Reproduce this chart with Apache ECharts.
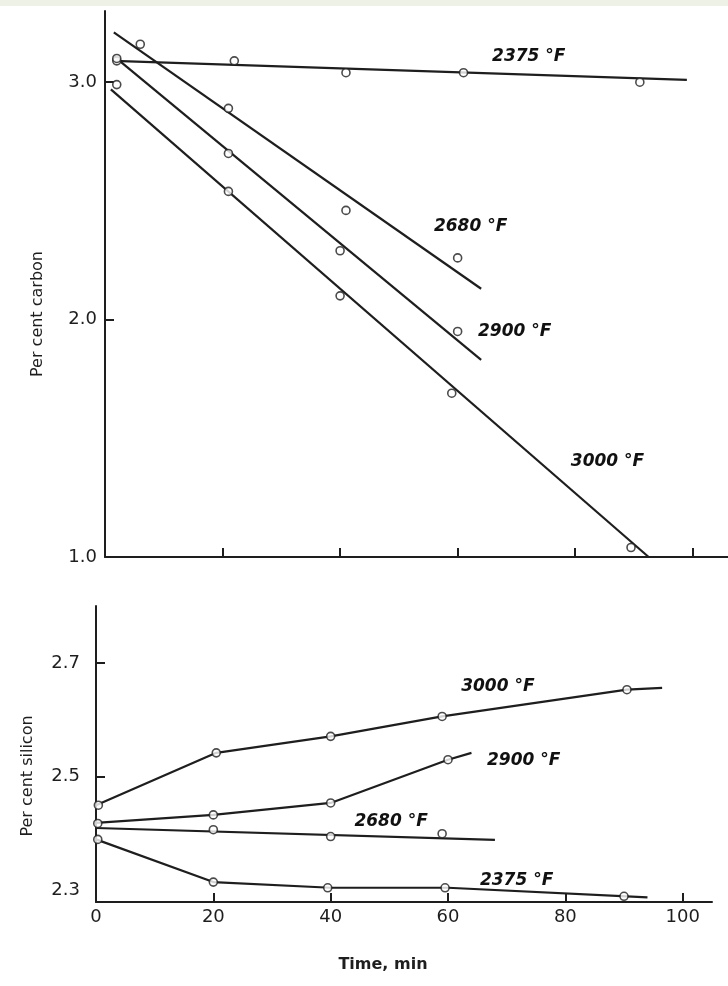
<!DOCTYPE html>
<html><head><meta charset="utf-8">
<script src="https://cdn.jsdelivr.net/npm/echarts@6/dist/echarts.min.js"></script>
<style>html,body{margin:0;padding:0;background:#fff}#c{width:728px;height:986px}</style>
</head><body><div id="c"></div>
<script>
// ---- data ----
const temps = ['2375 °F', '2680 °F', '2900 °F', '3000 °F'];
const timeLabels = [0, 20, 40, 60, 80, 100];
const timeTicks = [20, 40, 60, 80, 100];
const carbonLabels = [1.0, 2.0, 3.0];
const carbonTicks = [2.0, 3.0];
const siliconLabels = [2.3, 2.5, 2.7];
const siliconTicks = [2.5, 2.7];

// Per cent carbon: measured points [time, %C]
const carbon2375 = [[2, 3.09], [22, 3.09], [41, 3.04], [61, 3.04], [91, 3.0]];
const carbon2680 = [[6, 3.16], [21, 2.89], [41, 2.46], [60, 2.26]];
const carbon2900 = [[2, 3.10], [21, 2.70], [40, 2.29], [60, 1.95]];
const carbon3000 = [[2, 2.99], [21, 2.54], [40, 2.10], [59, 1.69], [89.5, 1.04]];
// Per cent carbon: fitted straight lines [start, end]
const carbonFit2375 = [[1.5, 3.09], [99, 3.01]];
const carbonFit2680 = [[1.5, 3.21], [64, 2.13]];
const carbonFit2900 = [[1.5, 3.11], [64, 1.83]];
const carbonFit3000 = [[1, 2.97], [92.5, 1.0]];
// curve label anchors (same order as temps)
const carbonLabelAt = [[72.1, 3.11], [62.2, 2.39], [69.7, 1.95], [85.5, 1.40]];

// Per cent silicon: measured points
const silicon2375 = [[0.3, 2.39], [20, 2.315], [39.5, 2.305], [59.5, 2.305], [90, 2.29]];
const silicon2680 = [[20, 2.407], [40, 2.395], [59, 2.40]];
const silicon2900 = [[0.3, 2.418], [20, 2.433], [40, 2.454], [60, 2.53]];
const silicon3000 = [[0.4, 2.45], [20.5, 2.542], [40, 2.571], [59, 2.606], [90.5, 2.653]];
// Per cent silicon: drawn curves
const siliconCurve2375 = [[0, 2.39], [20, 2.315], [40, 2.305], [60, 2.305], [94, 2.288]];
const siliconCurve2680 = [[0, 2.41], [68, 2.389]];
const siliconCurve2900 = [[0, 2.419], [20, 2.433], [40, 2.454], [60, 2.53], [64, 2.542]];
const siliconCurve3000 = [[0, 2.45], [20.5, 2.542], [40, 2.571], [59, 2.606], [90.5, 2.653], [96.5, 2.656]];
const siliconLabelAt = [[71.7, 2.318], [50.3, 2.421], [72.9, 2.528], [68.5, 2.658]];

// ---- styling ----
const INK = '#1e1e1e';
const FONT = 'DejaVu Sans';
const carbonPts = [carbon2375, carbon2680, carbon2900, carbon3000];
const carbonFits = [carbonFit2375, carbonFit2680, carbonFit2900, carbonFit3000];
const siliconPts = [silicon2375, silicon2680, silicon2900, silicon3000];
const siliconCurves = [siliconCurve2375, siliconCurve2680, siliconCurve2900, siliconCurve3000];

function lineSeries(data, gi) {
  return {type: 'line', xAxisIndex: gi, yAxisIndex: gi, data: data, symbol: 'none',
    lineStyle: {color: INK, width: 2.2}, silent: true, animation: false, z: 2};
}
function pointSeries(data, gi) {
  return {type: 'scatter', xAxisIndex: gi, yAxisIndex: gi, data: data, symbol: 'circle', symbolSize: 8,
    itemStyle: {color: '#fff', borderColor: INK, borderWidth: 1.6}, silent: true, animation: false, z: 3};
}
function labelSeries(pos, gi) {
  return {type: 'scatter', xAxisIndex: gi, yAxisIndex: gi, symbolSize: 0, silent: true, animation: false, z: 4,
    itemStyle: {opacity: 1},
    data: pos.map((p, i) => ({value: p, name: temps[i]})),
    label: {show: true, position: 'inside', formatter: p => p.name, color: '#111',
      fontFamily: FONT, fontStyle: 'italic', fontWeight: 'bold', fontSize: 17}};
}
function xAxisCfg(gi, max, showLabels) {
  return {type: 'value', gridIndex: gi, min: 0, max: max, interval: 20,
    axisLine: {show: true, onZero: false, lineStyle: {color: INK, width: 2}},
    axisTick: {show: true, inside: true, length: 9, customValues: timeTicks, lineStyle: {color: INK, width: 2}},
    axisLabel: {show: showLabels, customValues: timeLabels, color: INK, fontFamily: FONT, fontSize: 18, margin: 6},
    splitLine: {show: false}};
}
function yAxisCfg(gi, min, max, labels, ticks, margin) {
  return {type: 'value', gridIndex: gi, min: min, max: max,
    axisLine: {show: true, onZero: false, lineStyle: {color: INK, width: 2}},
    axisTick: {show: true, inside: true, length: 9, customValues: ticks, lineStyle: {color: INK, width: 2}},
    axisLabel: {customValues: labels, formatter: v => v.toFixed(1), color: INK, fontFamily: FONT, fontSize: 18, margin: margin},
    splitLine: {show: false}};
}

const series = [];
carbonFits.forEach(d => series.push(lineSeries(d, 0)));
carbonPts.forEach(d => series.push(pointSeries(d, 0)));
series.push(labelSeries(carbonLabelAt, 0));
siliconCurves.forEach(d => series.push(lineSeries(d, 1)));
siliconPts.forEach(d => series.push(pointSeries(d, 1)));
series.push(labelSeries(siliconLabelAt, 1));

const chart = echarts.init(document.getElementById('c'), null, {renderer: 'canvas'});
chart.setOption({
  backgroundColor: '#fff',
  animation: false,
  grid: [
    {left: 105, top: 11, width: 623, height: 546},
    {left: 96, top: 606, width: 616, height: 296}
  ],
  xAxis: [xAxisCfg(0, 106, false), xAxisCfg(1, 105, true)],
  yAxis: [yAxisCfg(0, 1.0, 3.3, carbonLabels, carbonTicks, 8), yAxisCfg(1, 2.28, 2.8, siliconLabels, siliconTicks, 16)],
  graphic: [
    {type: 'rect', left: 0, top: 0, shape: {width: 728, height: 6}, style: {fill: '#eef2e6'}, silent: true},
    {type: 'text', x: 38, y: 314, rotation: Math.PI / 2,
      style: {text: 'Per cent carbon', fill: INK, font: '16px "DejaVu Sans"', align: 'center', verticalAlign: 'middle'}},
    {type: 'text', x: 28, y: 776, rotation: Math.PI / 2,
      style: {text: 'Per cent silicon', fill: INK, font: '16px "DejaVu Sans"', align: 'center', verticalAlign: 'middle'}},
    {type: 'text', x: 383, y: 965,
      style: {text: 'Time, min', fill: INK, font: 'bold 16px "DejaVu Sans"', align: 'center', verticalAlign: 'middle'}}
  ],
  series: series
});
</script></body></html>
